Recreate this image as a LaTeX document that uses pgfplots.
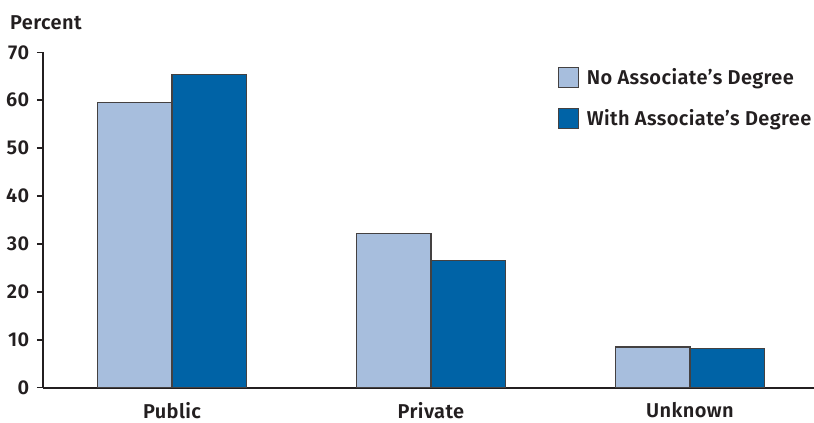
\documentclass[border=0pt]{standalone}
\usepackage{pgfplots}
\pgfplotsset{compat=1.18}
\usepackage{fontspec}
\setmainfont{Fira Sans SemiBold}[LetterSpace=2]
\definecolor{lightb}{HTML}{A7BEDD}
\definecolor{darkb}{HTML}{0063A6}
\definecolor{ink}{HTML}{231F20}
\begin{document}
\fontsize{20}{23}\selectfont
\begin{tikzpicture}
\path[use as bounding box] (-43pt,-35.3pt) rectangle (771pt,387.7pt);
\begin{axis}[
  at={(0pt,0pt)}, anchor=south west,
  scale only axis,
  width=771pt, height=335.4pt,
  ybar=0pt, bar width=74.5pt,
  xmin=-0.498, xmax=2.479,
  ymin=0, ymax=70,
  ytick={0,10,...,70},
  xtick={0,1,2},
  xticklabels={Public,Private,Unknown},
  axis x line*=bottom, axis y line*=left,
  axis line style={ink, line width=1.8pt},
  x axis line style={-}, y axis line style={-},
  tick style={ink, line width=1.8pt},
  ytick style={ink, line width=1.5pt},
  xtick style={draw=none},
  tick align=outside, major tick length=6pt,
  /pgf/number format/assume math mode=true,
  ticklabel style={font=\fontsize{20}{23}\selectfont, text=ink},
  yticklabel style={xshift=-1pt},
  xticklabel style={inner sep=0pt, yshift=-8.5pt},
  legend style={draw=none, fill=none, at={(0.6635,0.965)}, anchor=north west,
    font=\fontsize{20}{23}\selectfont, text=ink, row sep=18pt,
    /tikz/every odd column/.append style={column sep=6pt}},
  legend cell align=left,
  legend image code/.code={\draw[#1, line width=1.1pt] (0pt,-10pt) rectangle (20pt,10pt);},
  clip=false,
]
\addplot[fill=lightb, draw=ink!85, line width=1.1pt] coordinates {(0,59.5) (1,32.1) (2,8.5)};
\addplot[fill=darkb, draw=ink!85, line width=1.1pt] coordinates {(0,65.3) (1,26.5) (2,8.2)};
\legend{No Associate’s Degree, With Associate’s Degree}
\end{axis}
\node[anchor=south west, text=ink, inner sep=0pt] at (-33pt,357.4pt) {Percent};
\end{tikzpicture}
\end{document}
